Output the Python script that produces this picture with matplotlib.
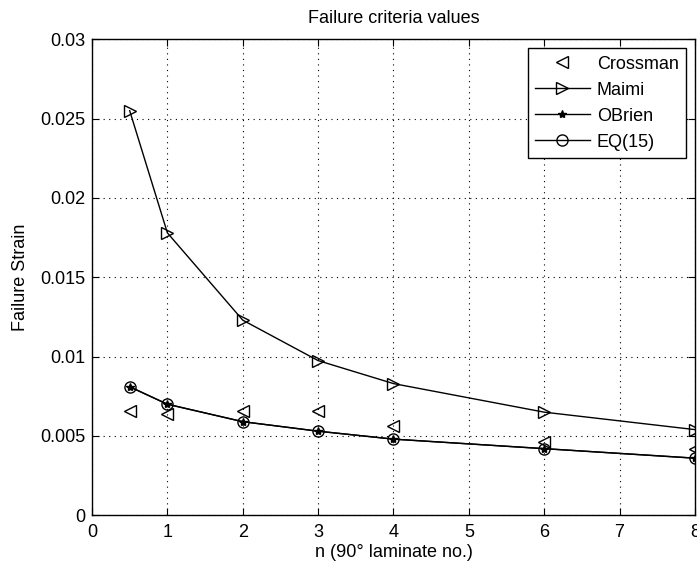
import matplotlib.pyplot as plt

plt.rcParams['font.family'] = ['Liberation Sans', 'DejaVu Sans']

n = [0.5, 1, 2, 3, 4, 6, 8]
crossman = [0.0066, 0.0064, 0.0066, 0.0066, 0.0056, 0.0046, 0.0042]
maimi = [0.0255, 0.0178, 0.0123, 0.00975, 0.0083, 0.0065, 0.0054]
obrien = [0.0081, 0.0070, 0.0059, 0.0053, 0.0048, 0.0042, 0.0036]
eq15 = [0.0081, 0.0070, 0.0059, 0.0053, 0.0048, 0.0042, 0.0036]

fig = plt.figure(figsize=(6.97, 5.66), dpi=100)
ax = fig.add_axes([0.132, 0.0896, 0.865, 0.841])

ax.plot(n, crossman, ls='none', marker='<', mfc='none', mec='k', ms=8, mew=1, label='Crossman')
ax.plot(n, maimi, color='k', lw=1, marker='>', mfc='none', mec='k', ms=8, mew=1, label='Maimi')
ax.plot(n, obrien, color='k', lw=1, marker='*', mfc='k', mec='k', ms=6, label='OBrien')
ax.plot(n, eq15, color='k', lw=1, marker='o', mfc='none', mec='k', ms=8, mew=1, label='EQ(15)')

ax.set_xlim(0, 8)
ax.set_ylim(0, 0.03)
ax.set_xticks(range(9))
ax.set_yticks([0, 0.005, 0.01, 0.015, 0.02, 0.025, 0.03])
ax.set_yticklabels(['0', '0.005', '0.01', '0.015', '0.02', '0.025', '0.03'])
ax.tick_params(direction='in', top=True, right=True, labelsize=13, length=5)
ax.tick_params(axis='x', pad=6)
ax.tick_params(axis='y', pad=5)
ax.grid(True, color='k', ls=(0, (1, 4)), lw=0.8)
for s in ax.spines.values():
    s.set_linewidth(1)

fig.text(0.5646, 0.968, 'Failure criteria values', fontsize=13, ha='center', va='center')
ax.set_xlabel('n (90° laminate no.)', fontsize=13)
ax.set_ylabel('Failure Strain', fontsize=13)
ax.xaxis.set_label_coords(0.5, -0.079)
ax.yaxis.set_label_coords(-0.119, 0.5)
ax.xaxis.label.set_va('center')
ax.yaxis.label.set_va('center')

leg = ax.legend(loc='upper right', fontsize=13, fancybox=False, edgecolor='k',
                handlelength=3.0, handletextpad=0.4, borderaxespad=0.5, framealpha=1)
leg.get_frame().set_linewidth(1)

fig.savefig('out.png', dpi=100)
